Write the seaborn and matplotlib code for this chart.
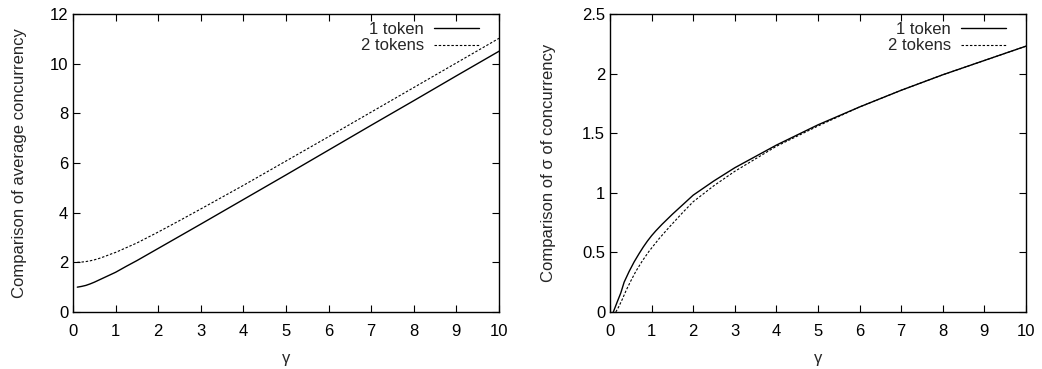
import numpy as np
import pandas as pd
import seaborn as sns
from matplotlib import pyplot as plt

# left panel: average concurrency vs gamma
gamma_avg = [0.1, 0.2, 0.3, 0.4, 0.5, 0.6, 0.75, 0.9, 1, 1.25, 1.5, 2, 2.5, 3, 4, 5, 6, 7, 8, 9, 10]
avg_1token = [1.0, 1.03, 1.07, 1.13, 1.2, 1.28, 1.4, 1.52, 1.6, 1.84, 2.07, 2.56, 3.05, 3.54, 4.53, 5.52, 6.52, 7.52, 8.51, 9.51, 10.5]
avg_2tokens = [2.0, 2.01, 2.03, 2.06, 2.1, 2.15, 2.24, 2.34, 2.4, 2.59, 2.78, 3.22, 3.68, 4.15, 5.1, 6.08, 7.06, 8.05, 9.04, 10.03, 11.02]

# right panel: sigma of concurrency vs gamma
gamma_sd1 = [0.08, 0.18, 0.26, 0.34, 0.46, 0.58, 0.7, 0.8, 0.9, 1.0, 1.1, 1.25, 1.5, 1.75, 2, 2.5, 3, 4, 5, 6, 7, 8, 9, 10]
sd_1token = [0.0, 0.09, 0.16, 0.25, 0.34, 0.42, 0.49, 0.545, 0.595, 0.64, 0.68, 0.735, 0.82, 0.9, 0.98, 1.10, 1.21, 1.40, 1.57, 1.72, 1.86, 1.99, 2.11, 2.23]
gamma_sd2 = [0.14, 0.22, 0.3, 0.4, 0.5, 0.62, 0.78, 0.94, 1.18, 1.42, 1.75, 2, 2.5, 3, 4, 5, 6, 7, 8, 9, 10]
sd_2tokens = [0.0, 0.05, 0.11, 0.19, 0.26, 0.34, 0.43, 0.51, 0.615, 0.71, 0.835, 0.925, 1.06, 1.18, 1.39, 1.56, 1.72, 1.86, 1.99, 2.11, 2.23]

avg_ticks = [0, 2, 4, 6, 8, 10, 12]
sd_ticks = [0, 0.5, 1, 1.5, 2, 2.5]
sd_ticklabels = ['0', '0.5', '1', '1.5', '2', '2.5']
x_ticks = list(range(0, 11))

sns.set_style("ticks")
plt.rcParams['font.family'] = ['Liberation Sans', 'DejaVu Sans']

fig = plt.figure(figsize=(10.42, 3.69), dpi=100)
ax1 = fig.add_axes([0.0701, 0.1545, 0.4088, 0.8076])
ax2 = fig.add_axes([0.5854, 0.1545, 0.3992, 0.8076])

dash = (0, (2.2, 1.6))

sns.lineplot(x=gamma_avg, y=avg_1token, ax=ax1, color='black', lw=1, label='1 token')
sns.lineplot(x=gamma_avg, y=avg_2tokens, ax=ax1, color='black', lw=0.8, linestyle=dash, label='2 tokens')
sns.lineplot(x=gamma_sd1, y=sd_1token, ax=ax2, color='black', lw=1, label='1 token')
sns.lineplot(x=gamma_sd2, y=sd_2tokens, ax=ax2, color='black', lw=0.8, linestyle=dash, label='2 tokens')

panels = [(ax1, avg_ticks, 'Comparison of average concurrency', 16, 0.961),
          (ax2, sd_ticks, 'Comparison of σ of concurrency', 19, 0.960)]
for ax, yt, ylab, lpad, lx in panels:
    ax.set_xlim(0, 10)
    ax.set_ylim(yt[0], yt[-1])
    ax.set_xticks(x_ticks)
    ax.set_yticks(yt)
    ax.set_xlabel('γ', fontsize=12, labelpad=8)
    ax.set_ylabel(ylab, fontsize=12, labelpad=lpad)
    ax.tick_params(axis='x', pad=9)
    ax.tick_params(direction='in', length=5, width=0.8, labelsize=12,
                   top=True, right=True, colors='black')
    for s in ax.spines.values():
        s.set_linewidth(1)
        s.set_color('black')
    ax.legend(loc='upper right', bbox_to_anchor=(lx, 0.985), frameon=False,
              markerfirst=False, fontsize=12, handlelength=2.7, labelspacing=0.1,
              borderaxespad=0, borderpad=0.2, handletextpad=0.6)

ax2.set_yticklabels(sd_ticklabels)

fig.savefig('out.png', dpi=100)
